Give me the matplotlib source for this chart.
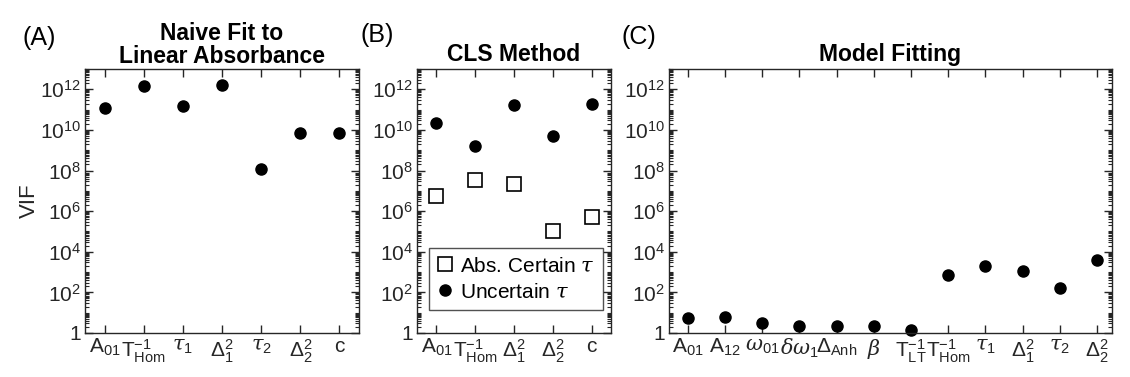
import numpy as np
import matplotlib
matplotlib.use("Agg")
import matplotlib.pyplot as plt
from matplotlib.ticker import FixedLocator, LogLocator, NullFormatter

plt.rcParams['font.family'] = ['Liberation Sans', 'DejaVu Sans']
plt.rcParams['mathtext.fontset'] = 'custom'
plt.rcParams['mathtext.rm'] = 'Liberation Sans'
plt.rcParams['mathtext.it'] = 'DejaVu Serif:italic'
plt.rcParams['mathtext.bf'] = 'Liberation Sans:bold'

# (A) naive fit
labels_a = [r'A$_{01}$', r'T$^{-1}_{\mathrm{Hom}}$', r'$\tau_1$', r'$\Delta^2_1$',
            r'$\tau_2$', r'$\Delta^2_2$', 'c']
vif_a = [1.2e11, 1.5e12, 1.5e11, 1.6e12, 1.2e8, 7e9, 7e9]

# (B) CLS method
labels_b = [r'A$_{01}$', r'T$^{-1}_{\mathrm{Hom}}$', r'$\Delta^2_1$', r'$\Delta^2_2$', 'c']
vif_b_certain = [5.6e6, 3.5e7, 2.2e7, 1e5, 5e5]
vif_b_uncertain = [2.2e10, 1.6e9, 1.7e11, 5e9, 1.9e11]

# (C) model fitting
labels_c = [r'A$_{01}$', r'A$_{12}$', r'$\omega_{01}$', r'$\delta\omega_1$',
            r'$\Delta_{\mathrm{Anh}}$', r'$\beta$', r'T$^{-1}_{\mathrm{LT}}$',
            r'T$^{-1}_{\mathrm{Hom}}$', r'$\tau_1$', r'$\Delta^2_1$', r'$\tau_2$', r'$\Delta^2_2$']
vif_c = [5.5, 6, 3, 2.3, 2.2, 2.1, 1.4, 720, 2000, 1150, 160, 4000]

ax_col = '#262626'
fig = plt.figure(figsize=(11.3, 3.77), dpi=100)
W, H = 1130, 377
def box(l, r, t, b):
    return [l / W, 1 - b / H, (r - l) / W, (b - t) / H]

axA = fig.add_axes(box(85, 359, 69, 333))
axB = fig.add_axes(box(417, 611, 69, 333))
axC = fig.add_axes(box(669, 1112, 69, 333))

majors = [10.0 ** k for k in range(0, 13, 2)]
major_labels = ['1'] + [r'$10^{%d}$' % k for k in range(2, 13, 2)]

def style(ax, labels, right_pad):
    n = len(labels)
    ax.set_yscale('log')
    ax.set_ylim(1, 1e13)
    ax.set_xlim(0.5, n + right_pad)
    ax.set_xticks(np.arange(1, n + 1))
    ax.set_xticklabels(labels, fontsize=15, color=ax_col)
    ax.yaxis.set_major_locator(FixedLocator(majors))
    ax.set_yticklabels(major_labels, fontsize=15, color=ax_col)
    ax.yaxis.set_minor_locator(LogLocator(base=10, subs=np.arange(1, 10), numticks=200))
    ax.yaxis.set_minor_formatter(NullFormatter())
    ax.tick_params(which='both', direction='in', top=True, right=True, color=ax_col)
    ax.tick_params(which='major', length=6, width=1, pad=3)
    ax.tick_params(which='minor', length=3, width=0.8)
    ax.tick_params(axis='x', which='minor', top=False, bottom=False)
    for s in ax.spines.values():
        s.set_color(ax_col)
        s.set_linewidth(1)

style(axA, labels_a, 0.5)
axA.plot(np.arange(1, 8), vif_a, 'o', color='black', markersize=8, clip_on=False)
axA.set_ylabel('VIF', fontsize=16, color=ax_col, labelpad=0)
axA.set_title('Naive Fit to\nLinear Absorbance', fontsize=16.5, fontweight='bold', pad=4,
              linespacing=1.05)

style(axB, labels_b, 0.5)
axB.plot(np.arange(1, 6), vif_b_certain, 's', markerfacecolor='white',
         markeredgecolor='black', markersize=10, markeredgewidth=1.2, label=r'Abs. Certain $\tau$')
axB.plot(np.arange(1, 6), vif_b_uncertain, 'o', color='black', markersize=8,
         label=r'Uncertain $\tau$')
axB.set_title('CLS Method', fontsize=16.5, fontweight='bold', pad=6)
leg = axB.legend(loc='upper left', bbox_to_anchor=(12 / 194, 1 - 179 / 264), fontsize=15,
                 frameon=True, fancybox=False, edgecolor=ax_col, handlelength=0.7,
                 handletextpad=0.4, borderpad=0.4, labelspacing=0.35, borderaxespad=0)
leg.get_frame().set_linewidth(1)

style(axC, labels_c, 0.4)
axC.plot(np.arange(1, 13), vif_c, 'o', color='black', markersize=8, clip_on=False)
axC.set_title('Model Fitting', fontsize=16.5, fontweight='bold', pad=6)

fig.text(22 / W, 1 - 38 / H, '(A)', fontsize=18, va='center', ha='left')
fig.text(361 / W, 1 - 35 / H, '(B)', fontsize=18, va='center', ha='left')
fig.text(621 / W, 1 - 37 / H, '(C)', fontsize=18, va='center', ha='left')

fig.savefig('out.png', dpi=100)
